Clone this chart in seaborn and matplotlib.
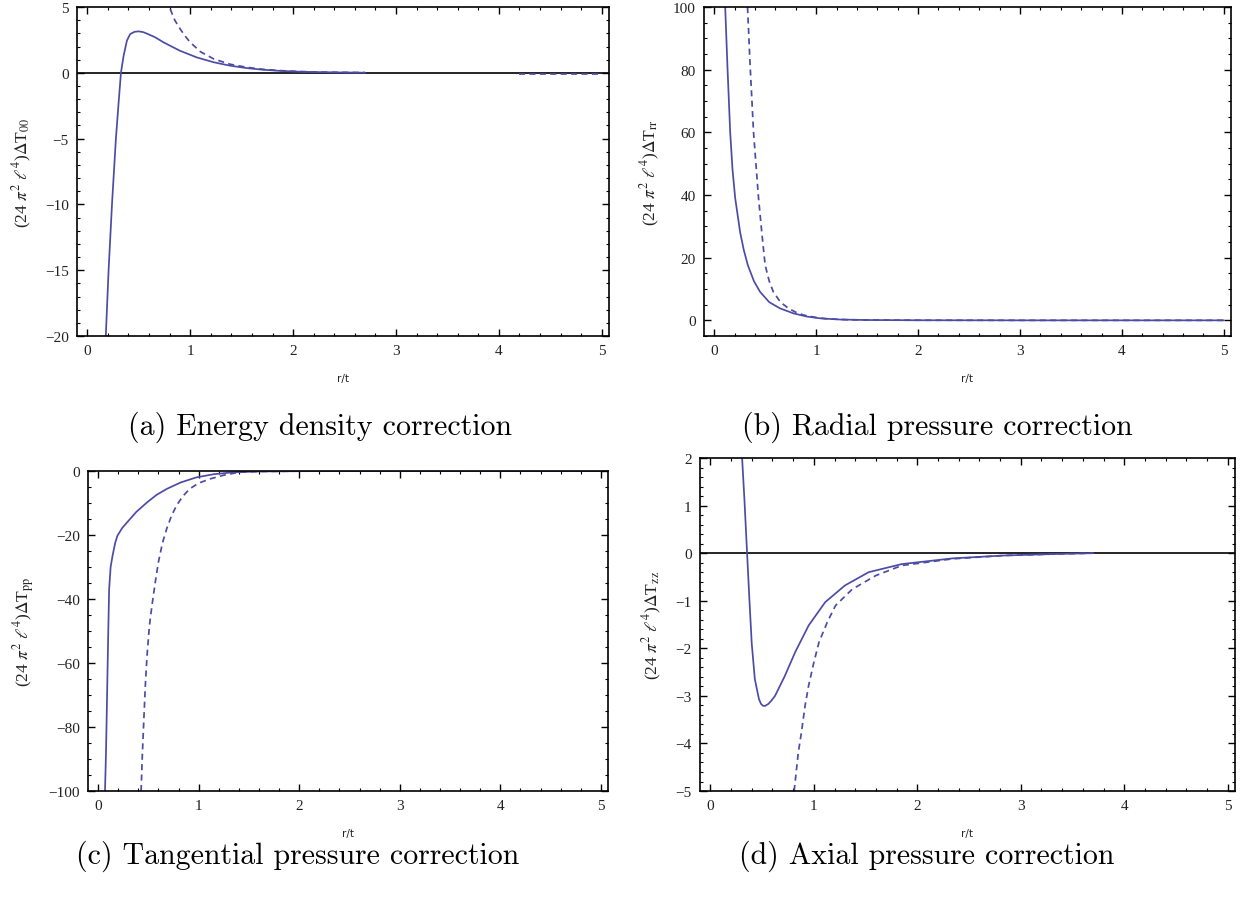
import matplotlib.pyplot as plt
from matplotlib.ticker import MultipleLocator
import seaborn as sns

# (a) energy density correction
a_x_solid = [0.18, 0.207, 0.24, 0.278, 0.307, 0.327, 0.353, 0.385, 0.417, 0.46, 0.50, 0.54,
             0.58, 0.66, 0.74, 0.90, 1.065, 1.23, 1.39, 1.55, 1.70, 1.87, 2.05, 2.2, 2.45, 2.7]
a_y_solid = [-20, -15, -10, -5, -2, 0, 1.3, 2.45, 2.95, 3.12, 3.15, 3.1,
             2.98, 2.7, 2.32, 1.68, 1.17, 0.8, 0.54, 0.36, 0.24, 0.15, 0.09, 0.06, 0.03, 0.01]
a_x_dash = [0.806, 0.85, 0.903, 0.95, 1.0, 1.1, 1.23, 1.39, 1.55, 1.7, 1.87, 2.05, 2.3, 2.7]
a_y_dash = [4.85, 4.0, 3.33, 2.8, 2.32, 1.6, 1.05, 0.65, 0.42, 0.27, 0.17, 0.1, 0.05, 0.02]
a_x_tail = [4.2, 4.6, 4.97]
a_y_tail = [-0.06, -0.06, -0.06]

# (b) radial pressure correction
b_x_solid = [0.108, 0.13, 0.157, 0.18, 0.206, 0.255, 0.29, 0.33, 0.39, 0.45, 0.54, 0.647,
             0.78, 0.91, 1.05, 1.24, 1.5, 2.0, 3.0, 4.0, 5.0]
b_y_solid = [100, 81, 60, 48, 39, 28, 22.5, 17.6, 12.5, 9.1, 5.8, 3.8,
             2.2, 1.2, 0.6, 0.25, 0.1, 0.03, 0.0, 0.0, 0.0]
b_x_dash = [0.327, 0.353, 0.386, 0.435, 0.47, 0.50, 0.54, 0.58, 0.65, 0.73, 0.80, 0.874,
            1.0, 1.1, 1.3, 1.6, 2.0, 3.0, 4.0, 5.0]
b_y_dash = [100, 81, 60, 39, 27, 17.6, 12.5, 9.1, 5.8, 3.8, 2.6, 1.7,
            0.9, 0.5, 0.2, 0.08, 0.03, 0.0, 0.0, 0.0]

# (c) tangential pressure correction
c_x_solid = [0.069, 0.079, 0.088, 0.10, 0.11, 0.125, 0.144, 0.17, 0.193, 0.24, 0.29, 0.38,
             0.487, 0.58, 0.683, 0.82, 0.977, 1.15, 1.34, 1.6, 2.0, 3.0, 4.0, 5.0]
c_y_solid = [-100, -88, -73, -52.5, -37, -30, -26.5, -22.5, -20.2, -17.8, -16, -12.8,
             -9.8, -7.5, -5.6, -3.6, -2.0, -1.0, -0.4, -0.15, -0.05, 0, 0, 0]
c_x_dash = [0.428, 0.44, 0.454, 0.47, 0.487, 0.51, 0.536, 0.57, 0.6, 0.64, 0.683, 0.73,
            0.78, 0.84, 0.91, 1.0, 1.11, 1.25, 1.40, 1.6, 2.0, 3.0, 4.0, 5.0]
c_y_dash = [-100, -89, -78.5, -67, -57.7, -48.5, -42, -34.5, -28.5, -22.5, -18, -14,
            -10.8, -8, -5.6, -3.8, -2.5, -1.3, -0.4, -0.15, -0.05, 0, 0, 0]

# (d) axial pressure correction
d_x_solid = [0.307, 0.33, 0.355, 0.378, 0.40, 0.43, 0.47, 0.49, 0.51, 0.53, 0.56, 0.59,
             0.625, 0.72, 0.82, 0.95, 1.11, 1.30, 1.53, 1.85, 2.34, 2.83, 3.3, 3.7]
d_y_solid = [2.0, 1.1, 0.0, -1.0, -1.9, -2.65, -3.07, -3.17, -3.21, -3.21, -3.17, -3.1,
             -3.0, -2.58, -2.08, -1.52, -1.03, -0.68, -0.40, -0.23, -0.11, -0.05, -0.02, 0.0]
d_x_dash = [0.81, 0.85, 0.88, 0.916, 0.95, 1.0, 1.05, 1.13, 1.21, 1.37, 1.6, 1.85,
            2.34, 2.83, 3.3, 3.7]
d_y_dash = [-5, -4.19, -3.77, -3.2, -2.78, -2.3, -1.87, -1.45, -1.1, -0.76, -0.47, -0.26,
            -0.12, -0.05, -0.02, 0.0]

captions = ["(a) Energy density correction", "(b) Radial pressure correction",
            "(c) Tangential pressure correction", "(d) Axial pressure correction"]
subscripts = ["00", "rr", "pp", "zz"]

sns.set_theme(style="ticks")
plt.rcParams["font.family"] = ["Liberation Serif", "DejaVu Serif"]
plt.rcParams["mathtext.fontset"] = "stix"

line_color = "#4c4ca6"
dash = (0, (3.5, 2.5))


def draw_panel(ax, xs, ys, xd, yd, ylim, ymaj, ymin, sub, zero_line=False):
    sns.lineplot(x=xs, y=ys, ax=ax, color=line_color, lw=1.25, sort=False, zorder=2)
    sns.lineplot(x=xd, y=yd, ax=ax, color=line_color, lw=1.25, sort=False,
                 linestyle=dash, zorder=2)
    if zero_line:
        ax.axhline(0, color="black", lw=1.2, zorder=1.5)
    ax.set_xlim(-0.1, 5.07)
    ax.set_ylim(*ylim)
    ax.xaxis.set_major_locator(MultipleLocator(1))
    ax.xaxis.set_minor_locator(MultipleLocator(0.2))
    ax.yaxis.set_major_locator(MultipleLocator(ymaj))
    ax.yaxis.set_minor_locator(MultipleLocator(ymin))
    ax.tick_params(which="both", direction="in", top=True, right=True,
                   color="black", labelsize=11, labelcolor="#222222")
    ax.tick_params(which="major", length=5, width=1.0, pad=6)
    ax.tick_params(which="minor", length=2.5, width=0.8)
    for s in ax.spines.values():
        s.set_linewidth(1.2)
        s.set_color("black")
    ax.set_xlabel("r/t", fontsize=7.5, family="DejaVu Sans", labelpad=11, color="#222222")
    ax.set_ylabel(r"(24 $\pi^2$ $\ell^4$)$\Delta$T$_{\mathrm{" + sub + "}}$",
                  fontsize=12.5, labelpad=8, color="#222222")


fig = plt.figure(figsize=(12.5, 9.03), dpi=100)
ax_a = fig.add_axes([0.0616, 0.6268, 0.4256, 0.3643])
ax_b = fig.add_axes([0.5632, 0.6268, 0.4216, 0.3643])
ax_c = fig.add_axes([0.0704, 0.1229, 0.416, 0.3544])
ax_d = fig.add_axes([0.56, 0.1229, 0.428, 0.3688])

draw_panel(ax_a, a_x_solid, a_y_solid, a_x_dash, a_y_dash, (-20, 5), 5, 1, subscripts[0], True)
sns.lineplot(x=a_x_tail, y=a_y_tail, ax=ax_a, color=line_color, lw=1.25, linestyle=dash)
draw_panel(ax_b, b_x_solid, b_y_solid, b_x_dash, b_y_dash, (-5, 100), 20, 5, subscripts[1])
draw_panel(ax_c, c_x_solid, c_y_solid, c_x_dash, c_y_dash, (-100, 0), 20, 5, subscripts[2])
draw_panel(ax_d, d_x_solid, d_y_solid, d_x_dash, d_y_dash, (-5, 2), 1, 0.2, subscripts[3], True)

cap_pos = [(0.256, 0.527), (0.75, 0.527), (0.238, 0.052), (0.741, 0.052)]
for (cx, cy), txt in zip(cap_pos, captions):
    fig.text(cx, cy, txt, ha="center", va="center", fontsize=21.5, family="cmr10",
             color="black")

fig.savefig("out.png", dpi=100)
